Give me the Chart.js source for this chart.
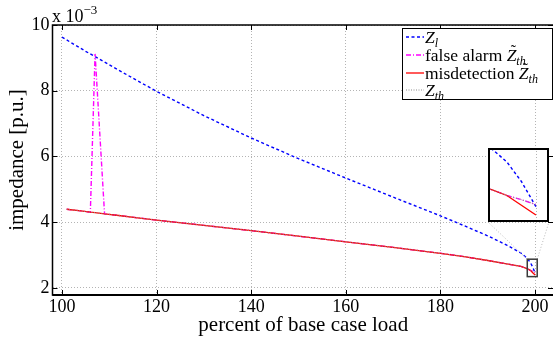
<!DOCTYPE html>
<html>
<head>
<meta charset="utf-8">
<script src="https://cdn.jsdelivr.net/npm/chart.js@4.4.0/dist/chart.umd.min.js"></script>
<style>
  body { margin: 0; width: 553px; height: 341px; overflow: hidden; position: relative; background: #fff;
         font-family: 'Liberation Serif', 'Times New Roman', serif; color: #000; }
  #main { position: absolute; left: 0; top: 0; }
  #inset { position: absolute; left: 488px; top: 148px; background: #fff; }
  #scale { position: absolute; left: 52px; top: 7px; font-size: 18px; line-height: 18px; white-space: nowrap; }
  #scale sup { font-size: 13px; position: relative; top: -8px; vertical-align: baseline; }
  #legend { position: absolute; left: 402px; top: 28px; width: 149px; height: 70px; border: 1px solid #000;
            background: #fff; font-size: 17.5px; }
  .row { position: absolute; left: 0; width: 149px; height: 18px; line-height: 18px; white-space: nowrap; }
  .row svg { position: absolute; left: 2px; top: 0; }
  .row .t { position: absolute; left: 22px; top: 0; }
  .row sub { font-size: 12px; font-style: italic; vertical-align: baseline; position: relative; top: 4px; }
  .tz { position: relative; display: inline-block; font-style: italic; }
  .tz b { position: absolute; left: 4px; top: -3px; font-weight: normal; font-style: normal; font-size: 16px; line-height: 16px; }
</style>
</head>
<body>
<canvas id="main" width="554" height="341"></canvas>
<canvas id="inset" width="61" height="74"></canvas>
<div id="scale">x 10<sup>&minus;3</sup></div>
<div id="legend">
  <div class="row" style="top:-1px">
    <svg width="19" height="18"><line x1="1" y1="9" x2="19" y2="9" stroke="#0000ff" stroke-width="1.3" stroke-dasharray="3 2.5"/></svg>
    <span class="t"><i>Z</i><sub>l</sub></span>
  </div>
  <div class="row" style="top:16.5px">
    <svg width="19" height="18"><line x1="1" y1="9" x2="19" y2="9" stroke="#ff00ff" stroke-width="1.3" stroke-dasharray="5 2 1 2"/></svg>
    <span class="t">false alarm <span class="tz">Z<b>&#732;</b></span><sub>th</sub></span>
  </div>
  <div class="row" style="top:34.5px">
    <svg width="19" height="18"><line x1="1" y1="9" x2="19" y2="9" stroke="#ff0000" stroke-width="1.3"/></svg>
    <span class="t">misdetection <span class="tz">Z<b>&#732;</b></span><sub>th</sub></span>
  </div>
  <div class="row" style="top:52px">
    <svg width="19" height="18"><line x1="1" y1="9" x2="19" y2="9" stroke="#8c8c8c" stroke-width="1" stroke-dasharray="1 1.5"/></svg>
    <span class="t"><i>Z</i><sub>th</sub></span>
  </div>
</div>
<script>
// load level in % of base case, impedances in units of 1e-3 p.u.
const loadLine = [100, 105, 110, 115, 120, 130, 140, 150, 160, 170, 180, 185, 190, 194, 197, 198, 198.5, 199, 199.5, 200];
const zLine = [9.63, 9.20, 8.79, 8.38, 7.98, 7.24, 6.56, 5.93, 5.34, 4.76, 4.19, 3.89, 3.58, 3.30, 3.06, 2.94, 2.86, 2.77, 2.63, 2.45];

const loadTh = [101, 104, 106, 107, 109, 112, 116, 120, 130, 140, 150, 160, 170, 180, 185, 190, 194, 197, 198, 198.5, 199, 199.5, 200];
const zTh = [4.39, 4.34, 4.30, 4.29, 4.25, 4.20, 4.13, 4.06, 3.90, 3.74, 3.57, 3.40, 3.23, 3.05, 2.95, 2.83, 2.73, 2.65, 2.60, 2.57, 2.53, 2.50, 2.465];
const zThFalseAlarm = [4.39, 4.34, 4.30, 9.12, 4.25, 4.20, 4.13, 4.06, 3.90, 3.74, 3.57, 3.40, 3.23, 3.05, 2.95, 2.83, 2.73, 2.65, 2.60, 2.57, 2.53, 2.50, 2.465];
const zThMisdetect = [4.39, 4.34, 4.30, 4.29, 4.25, 4.20, 4.13, 4.06, 3.90, 3.74, 3.57, 3.40, 3.23, 3.05, 2.95, 2.83, 2.73, 2.65, 2.60, 2.57, 2.53, 2.46, 2.39];

const xTicks = [100, 120, 140, 160, 180, 200];
const yTicks = [2, 4, 6, 8, 10];

// window shown enlarged in the inset
const zoomX = [198.35, 200.45];
const zoomY = [2.34, 2.87];

Chart.defaults.font.family = "'Liberation Serif', 'Times New Roman', serif";
Chart.defaults.color = '#000';

const toXY = (xs, ys) => xs.map((x, i) => ({ x: x, y: ys[i] }));

function seriesSets() {
  return [
    { label: 'Z_l', data: toXY(loadLine, zLine), borderColor: '#0000ff', borderDash: [3, 2.5], borderWidth: 1.4, order: 4 },
    { label: 'false alarm', data: toXY(loadTh, zThFalseAlarm), borderColor: '#ff00ff', borderDash: [5, 2, 1, 2], borderWidth: 1.4, order: 3 },
    { label: 'misdetection', data: toXY(loadTh, zThMisdetect), borderColor: '#ff0000', borderWidth: 1.3, order: 2 },
    { label: 'Z_th', data: toXY(loadTh, zTh), borderColor: '#8c8c8c', borderDash: [1, 1.5], borderWidth: 1, order: 1 }
  ].map(d => Object.assign(d, { pointRadius: 0, fill: false, tension: 0, backgroundColor: d.borderColor }));
}

// box, inward ticks, zoom window and leader lines
const frame = {
  id: 'frame',
  afterDraw(chart) {
    const { ctx, chartArea: a, scales: { x, y } } = chart;
    const zx0 = x.getPixelForValue(zoomX[0]), zx1 = x.getPixelForValue(zoomX[1]);
    const zy0 = y.getPixelForValue(zoomY[1]), zy1 = y.getPixelForValue(zoomY[0]);
    const ins = document.getElementById('inset');
    const ib = ins.offsetTop + ins.offsetHeight;
    ctx.save();
    ctx.strokeStyle = '#b8b8b8';
    ctx.lineWidth = 1;
    ctx.setLineDash([1, 2]);
    ctx.beginPath();
    ctx.moveTo(zx0, zy0); ctx.lineTo(ins.offsetLeft, ib);
    ctx.moveTo(zx1, zy0); ctx.lineTo(ins.offsetLeft + ins.offsetWidth, ib);
    ctx.stroke();
    ctx.setLineDash([]);
    ctx.strokeStyle = '#3a3a3a';
    ctx.lineWidth = 1.5;
    ctx.strokeRect(zx0, zy0, zx1 - zx0, zy1 - zy0);

    ctx.strokeStyle = '#000';
    ctx.lineWidth = 1.5;
    ctx.strokeRect(a.left, a.top, a.right - a.left, a.bottom - a.top);
    ctx.lineWidth = 2;
    ctx.beginPath();
    ctx.moveTo(a.left, a.bottom); ctx.lineTo(a.right, a.bottom);
    ctx.stroke();
    ctx.lineWidth = 1;
    ctx.beginPath();
    xTicks.forEach(v => {
      const px = Math.round(x.getPixelForValue(v)) + 0.5;
      ctx.moveTo(px, a.bottom); ctx.lineTo(px, a.bottom - 5);
      ctx.moveTo(px, a.top); ctx.lineTo(px, a.top + 5);
    });
    yTicks.forEach(v => {
      const py = Math.round(y.getPixelForValue(v)) + 0.5;
      ctx.moveTo(a.left, py); ctx.lineTo(a.left + 5, py);
      ctx.moveTo(a.right, py); ctx.lineTo(a.right - 6, py);
    });
    ctx.stroke();
    ctx.restore();
  }
};

new Chart(document.getElementById('main'), {
  type: 'line',
  data: { datasets: seriesSets() },
  options: {
    responsive: false,
    animation: false,
    layout: { padding: { top: 25, right: 0, bottom: 0, left: 0 } },
    plugins: { legend: { display: false }, tooltip: { enabled: false } },
    scales: {
      x: {
        type: 'linear',
        min: 98,
        max: 204,
        afterFit: s => { s.height = 46; },
        afterBuildTicks: s => { s.ticks = xTicks.map(v => ({ value: v })); },
        ticks: { font: { size: 18 }, padding: 1, maxRotation: 0, autoSkip: false },
        grid: { color: '#b4b4b4', lineWidth: 1, tickLength: 0 },
        border: { display: false, dash: [1, 2] },
        title: { display: true, text: 'percent of base case load', font: { size: 21 }, padding: { top: 0, bottom: 3 } }
      },
      y: {
        type: 'linear',
        min: 1.78,
        max: 10,
        afterFit: s => { s.width = 52.5; },
        afterBuildTicks: s => { s.ticks = yTicks.map(v => ({ value: v })); },
        ticks: { font: { size: 18 }, padding: 3 },
        grid: { color: '#b4b4b4', lineWidth: 1, tickLength: 0 },
        border: { display: false, dash: [1, 2] },
        title: { display: true, text: 'impedance [p.u.]', font: { size: 21 }, padding: { top: 5, bottom: 0 } }
      }
    }
  },
  plugins: [frame]
});

// inset: same curves over the zoom window
const insetFrame = {
  id: 'insetFrame',
  beforeDatasetsDraw(chart) {
    const { ctx, chartArea: a, scales: { x } } = chart;
    const px = Math.round(x.getPixelForValue(200)) + 0.5;
    ctx.save();
    ctx.strokeStyle = '#b4b4b4';
    ctx.lineWidth = 1;
    ctx.setLineDash([1, 2]);
    ctx.beginPath();
    ctx.moveTo(px, a.top); ctx.lineTo(px, a.bottom);
    ctx.stroke();
    ctx.restore();
  },
  afterDraw(chart) {
    const { ctx, width, height } = chart;
    ctx.save();
    ctx.strokeStyle = '#000';
    ctx.lineWidth = 2;
    ctx.strokeRect(1, 1, width - 2, height - 2);
    ctx.restore();
  }
};

new Chart(document.getElementById('inset'), {
  type: 'line',
  data: { datasets: seriesSets() },
  options: {
    responsive: false,
    animation: false,
    layout: { padding: 0 },
    plugins: { legend: { display: false }, tooltip: { enabled: false } },
    scales: {
      x: { type: 'linear', display: false, min: zoomX[0], max: zoomX[1] },
      y: { type: 'linear', display: false, min: zoomY[0], max: zoomY[1] }
    }
  },
  plugins: [insetFrame]
});
</script>
</body>
</html>
